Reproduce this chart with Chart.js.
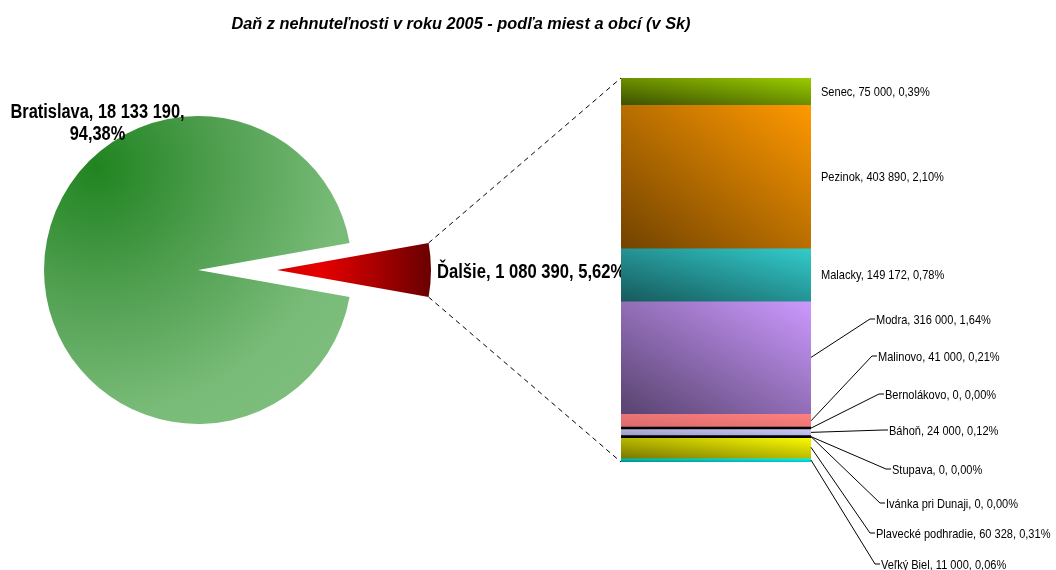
<!DOCTYPE html>
<html>
<head>
<meta charset="utf-8">
<script src="https://cdn.jsdelivr.net/npm/chart.js@4.4.0/dist/chart.umd.min.js"></script>
<style>
  html, body { margin: 0; padding: 0; background: #fff; }
  #wrap { position: relative; width: 1056px; height: 570px; }
  #wrap canvas { position: absolute; left: 0; top: 0; }
</style>
</head>
<body>
<div id="wrap">
  <canvas id="pie" width="1056" height="570"></canvas>
  <canvas id="bar" width="1056" height="570"></canvas>
</div>
<script>
const chartTitle = "Daň z nehnuteľnosti v roku 2005 - podľa miest a obcí (v Sk)"

const pieLabels = ["Bratislava", "Ďalšie"]
const pieValues = [18133190, 1080390]

const barLabels = [
  "Senec",
  "Pezinok",
  "Malacky",
  "Modra",
  "Malinovo",
  "Bernolákovo",
  "Báhoň",
  "Stupava",
  "Ivánka pri Dunaji",
  "Plavecké podhradie",
  "Veľký Biel",
]
const barValues = [75000, 403890, 149172, 316000, 41000, 0, 24000, 0, 0, 60328, 11000]

// bright / dark end of each segment gradient
const barColors = [
  ["#99cc00", "#3d5200"],
  ["#ff9900", "#724300"],
  ["#33cccc", "#165a5c"],
  ["#cc99ff", "#58436f"],
  ["#ff8080", "#d86a6a"],
  ["#000000", "#000000"],
  ["#ccccff", "#9a9ac0"],
  ["#000000", "#000000"],
  ["#000000", "#000000"],
  ["#ffff00", "#7a7800"],
  ["#00ffff", "#008c8c"],
]

// where the labels with leader lines end (elbow point), null = label beside the segment
const labelSpots = [
  null, null, null,
  [870, 319], [872, 356], [879, 394], [883, 430],
  [886, 469], [880, 503], [870, 533], [875, 564],
]

const EXPLODE = 79 // how far the small slice is pulled out
const FONT = '"Liberation Sans", Arial, sans-serif'
const grandTotal = pieValues.reduce((a, b) => a + b, 0)
const otherTotal = barValues.reduce((a, b) => a + b, 0)

const fmtNum = (v) => String(v).replace(/\B(?=(\d{3})+(?!\d))/g, " ")
const fmtPct = (v) => ((v / grandTotal) * 100).toFixed(2).replace(".", ",") + "%"
const labelText = (name, v) => `${name}, ${fmtNum(v)}, ${fmtPct(v)}`

// the original text is narrow, so squeeze it horizontally
function drawText(ctx, text, x, y, font, align, sx) {
  ctx.save()
  ctx.font = font
  ctx.textAlign = align
  ctx.textBaseline = "alphabetic"
  ctx.fillStyle = "#000"
  ctx.translate(x, y)
  ctx.scale(sx, 1)
  ctx.fillText(text, 0, 0)
  ctx.restore()
}

function pieFill(c) {
  const area = c.chart.chartArea
  if (!area) return "#5aa55a"
  const ctx = c.chart.ctx
  const cx = (area.left + area.right) / 2
  const cy = (area.top + area.bottom) / 2
  if (c.dataIndex === 0) {
    const g = ctx.createRadialGradient(cx - 101, cy - 103, 0, cx - 101, cy - 103, 290)
    g.addColorStop(0, "#208420")
    g.addColorStop(0.45, "#52a052")
    g.addColorStop(0.85, "#78bb78")
    g.addColorStop(1, "#7cbd7c")
    return g
  }
  const g = ctx.createLinearGradient(cx, 0, cx + 154, 0)
  g.addColorStop(0, "#d80000")
  g.addColorStop(0.3, "#e40000")
  g.addColorStop(1, "#690000")
  return g
}

// draw the arcs ourselves so the small one can be moved out without growing
const explodePlugin = {
  id: "explode",
  beforeDatasetDraw(chart, args) {
    const ctx = chart.ctx
    args.meta.data.forEach((arc, i) => {
      ctx.save()
      if (i === 1) {
        const mid = (arc.startAngle + arc.endAngle) / 2
        ctx.translate(Math.cos(mid) * EXPLODE, Math.sin(mid) * EXPLODE)
      }
      arc.draw(ctx)
      ctx.restore()
    })
    return false
  },
  afterDraw(chart) {
    const ctx = chart.ctx
    const bold = `bold 20px ${FONT}`
    drawText(ctx, `${pieLabels[0]}, ${fmtNum(pieValues[0])},`, 97.5, 118, bold, "center", 0.82)
    drawText(ctx, fmtPct(pieValues[0]), 97.5, 140, bold, "center", 0.82)

    const arc = chart.getDatasetMeta(0).data[1]
    const mid = (arc.startAngle + arc.endAngle) / 2
    const x = arc.x + Math.cos(mid) * EXPLODE + arc.outerRadius + 6
    const y = arc.y + Math.sin(mid) * EXPLODE + 8
    drawText(ctx, labelText(pieLabels[1], pieValues[1]), x, y, bold, "left", 0.83)
  },
}

const pieChart = new Chart(document.getElementById("pie"), {
  type: "pie",
  data: {
    labels: pieLabels,
    datasets: [
      {
        data: pieValues,
        backgroundColor: pieFill,
        borderWidth: 0,
      },
    ],
  },
  options: {
    responsive: false,
    animation: false,
    radius: 154,
    // turn so that the small slice points to the right
    rotation: 90 - (360 * (pieValues[0] + pieValues[1] / 2)) / grandTotal,
    layout: { padding: { left: 0, right: 660, top: 0, bottom: 30 } },
    plugins: {
      legend: { display: false },
      tooltip: { enabled: false },
    },
  },
  plugins: [explodePlugin],
})

function barFill(c, i) {
  const chart = c.chart
  const area = chart.chartArea
  if (!area) return barColors[i][0]
  const y = chart.scales.y
  const start = barValues.slice(0, i).reduce((a, b) => a + b, 0)
  const top = y.getPixelForValue(start)
  const bottom = y.getPixelForValue(start + barValues[i])
  const w = area.right - area.left
  const h = Math.max(bottom - top, 1)
  // bottom-left corner dark, top-right corner bright, other corners half way
  const len = Math.hypot(w, h)
  const k = (2 * w * h) / (len * len)
  const g = chart.ctx.createLinearGradient(area.left, bottom, area.left + h * k, bottom - w * k)
  g.addColorStop(0, barColors[i][1])
  g.addColorStop(1, barColors[i][0])
  return g
}

const barLabelsPlugin = {
  id: "barLabels",
  afterDraw(chart) {
    const ctx = chart.ctx
    const area = chart.chartArea
    const y = chart.scales.y

    drawText(ctx, chartTitle, 461, 29, `italic bold 17px ${FONT}`, "center", 0.96)

    // dashed lines from the pulled out slice to the bar
    const arc = pieChart.getDatasetMeta(0).data[1]
    const mid = (arc.startAngle + arc.endAngle) / 2
    const ax = arc.x + Math.cos(mid) * EXPLODE
    const ay = arc.y + Math.sin(mid) * EXPLODE
    ctx.save()
    ctx.strokeStyle = "#000"
    ctx.lineWidth = 1
    ctx.setLineDash([5, 4])
    ctx.beginPath()
    ctx.moveTo(ax + Math.cos(arc.startAngle) * arc.outerRadius, ay + Math.sin(arc.startAngle) * arc.outerRadius)
    ctx.lineTo(area.left, area.top)
    ctx.moveTo(ax + Math.cos(arc.endAngle) * arc.outerRadius, ay + Math.sin(arc.endAngle) * arc.outerRadius)
    ctx.lineTo(area.left, area.bottom)
    ctx.stroke()
    ctx.restore()

    let start = 0
    barLabels.forEach((name, i) => {
      const v = barValues[i]
      const top = y.getPixelForValue(start)
      const bottom = y.getPixelForValue(start + v)
      const cy = (top + bottom) / 2
      start += v

      if (v === 0) {
        ctx.save()
        ctx.strokeStyle = "#000"
        ctx.lineWidth = 2.5
        ctx.beginPath()
        ctx.moveTo(area.left, top)
        ctx.lineTo(area.right, top)
        ctx.stroke()
        ctx.restore()
      }

      const font = `13px ${FONT}`
      const spot = labelSpots[i]
      if (!spot) {
        drawText(ctx, labelText(name, v), area.right + 10, cy + 4.5, font, "left", 0.85)
        return
      }
      ctx.save()
      ctx.strokeStyle = "#000"
      ctx.lineWidth = 1
      ctx.beginPath()
      ctx.moveTo(area.right, cy)
      ctx.lineTo(spot[0], spot[1])
      ctx.lineTo(spot[0] + 5, spot[1])
      ctx.stroke()
      ctx.restore()
      drawText(ctx, labelText(name, v), spot[0] + 6, spot[1] + 4.5, font, "left", 0.85)
    })
  },
}

new Chart(document.getElementById("bar"), {
  type: "bar",
  data: {
    labels: [""],
    datasets: barLabels.map((name, i) => ({
      label: name,
      data: [barValues[i]],
      backgroundColor: (c) => barFill(c, i),
      borderWidth: 0,
      barPercentage: 1,
      categoryPercentage: 1,
    })),
  },
  options: {
    responsive: false,
    animation: false,
    layout: { padding: { left: 621, right: 245, top: 78, bottom: 108 } },
    scales: {
      x: { display: false, stacked: true },
      y: { display: false, stacked: true, reverse: true, min: 0, max: otherTotal },
    },
    plugins: {
      legend: { display: false },
      tooltip: { enabled: false },
    },
  },
  plugins: [barLabelsPlugin],
})
</script>
</body>
</html>
